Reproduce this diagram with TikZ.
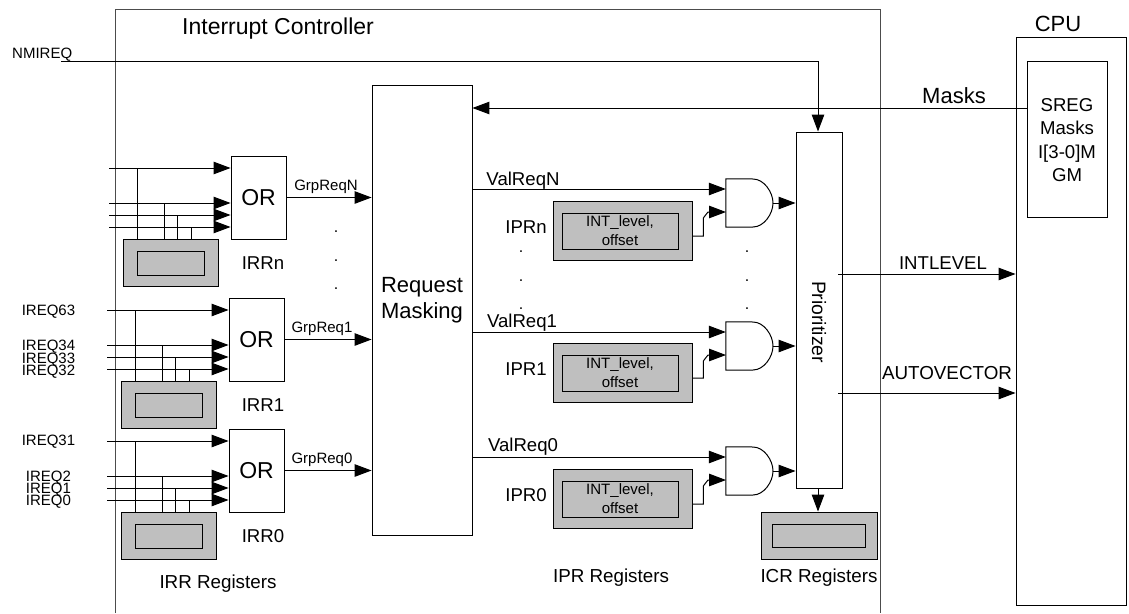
\documentclass[tikz,border=0pt]{standalone}
\usepackage{fontspec}
\setmainfont{Liberation Sans}
\usetikzlibrary{arrows.meta}
\newcommand{\fsz}[1]{\fontsize{#1}{#1}\selectfont}
\tikzset{
  wire/.style={draw=black,line width=1pt},
  arr/.style={wire,-{Triangle[length=17pt,width=12.5pt]}},
  blockbox/.style={draw=black,line width=0.9pt,rectangle,inner sep=0pt,fill=white},
  regouter/.style={draw=black,line width=0.9pt,rectangle,inner sep=0pt,fill=black!25},
  reginner/.style={regouter,align=center},
  lab/.style={inner sep=0pt,text depth=0pt},
  ft/.style={font=\fsz{#1},text height={0.716*#1*1pt}},
  dotlab/.style={inner sep=0pt,anchor=base,font=\fsz{16}},
  framebox/.style={draw=black!70,line width=0.9pt}
}
% box by corners: name, x1, y1, x2, y2, style, text
\newcommand{\rbox}[7]{\node[#6,minimum width={((#4)-(#2))*1pt},minimum height={((#5)-(#3))*1pt}] (#1) at ({((#2)+(#4))/2},{((#3)+(#5))/2}) {#7};}
\newcommand{\orgroup}[5]{%
  \rbox{or#1}{#2}{#3}{#2+55}{#3+83}{blockbox}{}
  \node[lab,ft=23] (ort#1) at (or#1) {OR};
  \rbox{reg#1}{#2-108}{#3+83}{#2-13}{#3+130}{regouter}{}
  \rbox{regi#1}{#2-94}{#3+95}{#2-27}{#3+119}{reginner}{}
  \coordinate (a#1) at ({#2-122},{#3+12});
  \coordinate (b#1) at ({#2-122},{#3+47});
  \coordinate (c#1) at ({#2-122},{#3+59});
  \coordinate (d#1) at ({#2-122},{#3+71});
  \coordinate (va#1) at ({#2-94},{#3+12});
  \coordinate (vb#1) at ({#2-67},{#3+47});
  \coordinate (vc#1) at ({#2-54},{#3+59});
  \coordinate (vd#1) at ({#2-40},{#3+71});
  \foreach \q in {a,b,c,d}{\draw[arr] (\q#1) -- (or#1.west |- \q#1);}
  \foreach \q in {a,b,c,d}{\draw[wire] (v\q#1) -- (v\q#1 |- reg#1.north);}
  \node[lab,ft=18.6] (irrl#1) at (263,{#3+107}) {#4};
  \draw[arr] (or#1.east) -- (or#1.east -| mask.west);
  \node[lab,ft=15] (grp#1) at (#5,{#3+29}) {GrpReq#1};
}
\newcommand{\andgroup}[4]{%
  \node[inner sep=0pt,minimum width=47pt,minimum height=48pt] (and#1) at (749.5,{#2+24}) {};
  \draw[wire,fill=white] (and#1.north west) -- (753,#2) .. controls (764,#2) and (773,{#2+13.25}) .. (773,{#2+24}) .. controls (773,{#2+34.75}) and (764,{#2+48}) .. (753,{#2+48}) -- (and#1.south west) -- cycle;
  \rbox{ipr#1}{553}{#3}{692}{#3+59}{regouter}{}
  \rbox{ipri#1}{562}{#3+12}{678}{#3+48}{reginner,font=\fsz{15},execute at begin node={\setlength{\baselineskip}{19pt}}}{INT\_level,\\offset}
  \coordinate (vr#1) at (472,{#2+10});
  \draw[arr] (vr#1) -- (and#1.west |- vr#1);
  \coordinate (p#1a) at (692,{#3+35});
  \coordinate (p#1b) at (703.3,{#3+35});
  \coordinate (p#1c) at (703.3,{#2+39});
  \coordinate (p#1d) at (708,{#2+33});
  \coordinate (p#1e) at (726,{#2+33});
  \draw[arr] (p#1a) -- (p#1b) -- (p#1c) -- (p#1d) -- (p#1e);
  \coordinate (ao#1) at (773,{#2+24});
  \draw[arr] (ao#1) -- (ao#1 -| prio.west);
  \node[lab,ft=18.6] (iprl#1) at (526,{#3+26}) {#4};
}
\begin{document}
\begin{tikzpicture}[x=1pt,y=-1pt]
\useasboundingbox (0,0) rectangle (1129,613);
\coordinate (f1) at (115,613); \coordinate (f2) at (115,9); \coordinate (f3) at (880,9); \coordinate (f4) at (880,613);
\draw[framebox] (f1) -- (f2) -- (f3) -- (f4);
\rbox{cpu}{1016}{37}{1126}{605}{draw=black,line width=0.9pt,rectangle,inner sep=0pt}{}
\rbox{sreg}{1027}{61}{1107}{217}{blockbox}{}
\node[lab,ft=18.6] (ts1) at (1067,105) {SREG};
\node[lab,ft=18.6] (ts2) at (1067,128) {Masks};
\node[lab,ft=18.6] (ts3) at (1067,152) {I[3-0]M};
\node[lab,ft=18.6] (ts4) at (1067,175) {GM};
\rbox{mask}{372}{85}{472}{535}{blockbox}{}
\rbox{prio}{796}{132}{842}{488}{blockbox}{}
\rbox{icr}{761}{512}{877}{559}{regouter}{}
\rbox{icri}{772}{524}{865}{547}{reginner}{}
\node[lab,ft=23,anchor=base west] (tic) at (182,34) {Interrupt Controller};
\node[lab,ft=22] (tcpu) at (1058,24) {CPU};
\node[lab,ft=22] (tmask) at (954,96) {Masks};
\node[lab,ft=22] (trm1) at (422,285) {Request};
\node[lab,ft=22] (trm2) at (422,311) {Masking};
\node[lab,ft=19.4,rotate=-90] (tprio) at (819,322) {Prioritizer};
\orgroup{N}{231}{156}{IRRn}{326}
\orgroup{1}{229}{298}{IRR1}{322}
\orgroup{0}{229}{429}{IRR0}{322}
\andgroup{N}{179}{201}{IPRn}
\andgroup{1}{322}{343}{IPR1}
\andgroup{0}{447}{469}{IPR0}
\coordinate (nmi) at (61,61);
\coordinate (nmib) at (818,61);
\draw[arr] (nmi) -- (nmib) -- (prio.north -| nmib);
\coordinate (masksrc) at (1027,108);
\draw[arr] (masksrc -| sreg.west) -- (masksrc -| mask.east);
\coordinate (pb) at (818,488);
\draw[arr] (pb) -- (pb |- icr.north);
\coordinate (il) at (838,274);
\draw[arr] (il) -- (il -| cpu.west);
\coordinate (av) at (838,393);
\draw[arr] (av) -- (av -| cpu.west);
\node[lab,ft=15,anchor=base west] (lnmi) at (12,58.5) {NMIREQ};
\node[lab,ft=15] (l63) at (48.5,310) {IREQ63};
\node[lab,ft=15] (l34) at (48.5,345) {IREQ34};
\node[lab,ft=15] (l33) at (48.5,358) {IREQ33};
\node[lab,ft=15] (l32) at (48.5,370) {IREQ32};
\node[lab,ft=15] (l31) at (48.5,440) {IREQ31};
\node[lab,ft=15] (l2) at (48.5,476) {IREQ2};
\node[lab,ft=15] (l1) at (48.5,488) {IREQ1};
\node[lab,ft=15] (l0) at (48.5,500) {IREQ0};
\node[lab,ft=18.6] (lvN) at (523,179) {ValReqN};
\node[lab,ft=18.6] (lv1) at (522,321) {ValReq1};
\node[lab,ft=18.6] (lv0) at (523,445) {ValReq0};
\node[lab,ft=18.8] (lirr) at (218,582) {IRR Registers};
\node[lab,ft=18.8] (lipr) at (611,576) {IPR Registers};
\node[lab,ft=18.8] (licr) at (819,576) {ICR Registers};
\node[lab,ft=18.6] (lint) at (943,263) {INTLEVEL};
\node[lab,ft=18.8] (lauto) at (947,373) {AUTOVECTOR};
\node[dotlab] (d1) at (336,232) {.}; \node[dotlab] (d2) at (336,261) {.}; \node[dotlab] (d3) at (336,289) {.};
\node[dotlab] (d4) at (521,252) {.}; \node[dotlab] (d5) at (521,281) {.}; \node[dotlab] (d6) at (521,309) {.};
\node[dotlab] (d7) at (747,252) {.}; \node[dotlab] (d8) at (747,281) {.}; \node[dotlab] (d9) at (747,309) {.};
\end{tikzpicture}
\end{document}
